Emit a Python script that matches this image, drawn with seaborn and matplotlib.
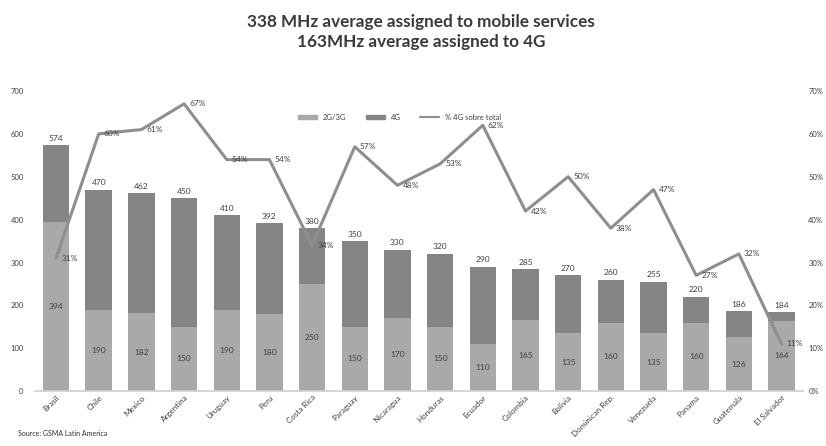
import numpy as np
import pandas as pd
import matplotlib
matplotlib.use("Agg")
import matplotlib.pyplot as plt
import seaborn as sns
from matplotlib.patches import Patch
from matplotlib.lines import Line2D

# Data
countries = ["Brasil", "Chile", "Mexico", "Argentina", "Uruguay", "Peru", "Costa Rica",
             "Paraguay", "Nicaragua", "Honduras", "Ecuador", "Colombia", "Bolivia",
             "Dominican Rep.", "Venezuela", "Panama", "Guatemala", "El Salvador"]
total_mhz = [574, 470, 462, 450, 410, 392, 380, 350, 330, 320, 290, 285, 270, 260, 255, 220, 186, 184]
mhz_2g3g = [394, 190, 182, 150, 190, 180, 250, 150, 170, 150, 110, 165, 135, 160, 135, 160, 126, 164]
pct_4g = [31, 60, 61, 67, 54, 54, 34, 57, 48, 53, 62, 42, 50, 38, 47, 27, 32, 11]

col_light = "#a9a9a9"
col_dark = "#858585"
col_line = "#8e8e8e"
txt_col = "#404040"

sns.set_theme(style="white")
plt.rcParams["font.family"] = ["Lato", "DejaVu Sans"]

df = pd.DataFrame({"pais": countries, "total": total_mhz, "g23": mhz_2g3g,
                   "pct": np.array(pct_4g) / 100})

fig = plt.figure(figsize=(8.26, 4.46), dpi=100)
ax = fig.add_axes([0.042, 0.123, 0.930, 0.673])

# stacked bars: total (4G on top) then 2G/3G over it
sns.barplot(data=df, x="pais", y="total", color=col_dark, width=0.62, saturation=1,
            linewidth=0, ax=ax)
sns.barplot(data=df, x="pais", y="g23", color=col_light, width=0.62, saturation=1,
            linewidth=0, ax=ax)

ax.set_ylim(0, 700)
ax.set_xlim(-0.5, len(countries) - 0.5)
ax.set_yticks(range(0, 701, 100))
ax.set_xlabel("")
ax.set_ylabel("")
for s in ["top", "right", "left"]:
    ax.spines[s].set_visible(False)
ax.spines["bottom"].set_color("#d0d0d0")
ax.tick_params(axis="y", labelsize=5.5, colors=txt_col, length=0, pad=8)
ax.tick_params(axis="x", labelsize=5.8, colors=txt_col, length=0, pad=2)
plt.setp(ax.get_xticklabels(), rotation=45, ha="right", rotation_mode="anchor")

for i, (t, g) in enumerate(zip(total_mhz, mhz_2g3g)):
    ax.text(i, t + 8, str(t), ha="center", va="bottom", fontsize=6, color=txt_col)
    ax.text(i, g / 2, str(g), ha="center", va="center", fontsize=6, color=txt_col)

# % 4G line on secondary axis
ax2 = ax.twinx()
sns.lineplot(x=np.arange(len(countries)), y=df["pct"], color=col_line, linewidth=2.2, ax=ax2)
ax2.set_ylim(0, 0.7)
ax2.set_yticks(np.arange(0, 0.71, 0.1))
ax2.set_yticklabels([f"{int(round(v * 100))}%" for v in np.arange(0, 0.71, 0.1)])
ax2.set_ylabel("")
for s in ["top", "right", "left", "bottom"]:
    ax2.spines[s].set_visible(False)
ax2.tick_params(axis="y", labelsize=5.5, colors=txt_col, length=0, pad=4)
for i, p in enumerate(pct_4g):
    ax2.text(i + 0.12, p / 100, f"{p}%", ha="left", va="center", fontsize=6, color=txt_col)

handles = [Patch(color=col_light, label="2G/3G"),
           Patch(color=col_dark, label="4G"),
           Line2D([0], [0], color=col_line, linewidth=1.5, label="% 4G sobre total")]
ax.legend(handles=handles, loc="center", bbox_to_anchor=(0.475, 0.913), ncol=3,
          frameon=False, fontsize=5.5, handlelength=2.5, handleheight=0.4,
          columnspacing=2.5, labelcolor=txt_col)

fig.text(0.51, 0.928, "338 MHz average assigned to mobile services\n163MHz average assigned to 4G",
         ha="center", va="center", fontsize=12.3, fontweight="bold", color="#3a3a3a",
         linespacing=1.25)
fig.text(0.022, 0.022, "Source: GSMA Latin America", fontsize=5, color="#303030")

fig.savefig("out.png", dpi=100)
